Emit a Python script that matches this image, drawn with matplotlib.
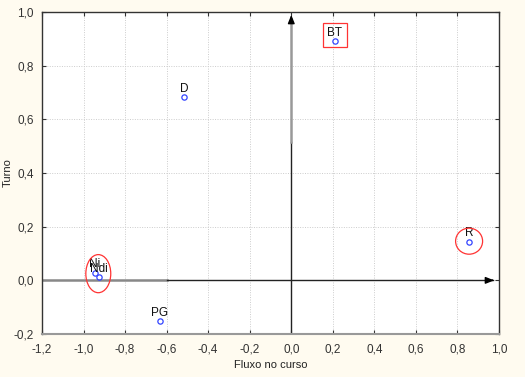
import matplotlib
matplotlib.use("Agg")
import matplotlib.pyplot as plt
from matplotlib.patches import Ellipse, Rectangle
from matplotlib.ticker import FuncFormatter, MultipleLocator

labels = ["BT", "D", "R", "Ni", "Ndi", "PG"]
fluxo = [0.21, -0.516, 0.856, -0.946, -0.927, -0.633]
turno = [0.892, 0.683, 0.143, 0.028, 0.012, -0.152]

plt.rcParams['font.family'] = ['Liberation Sans', 'DejaVu Sans']

fig = plt.figure(figsize=(5.25, 3.77), dpi=100)
fig.patch.set_facecolor('#fffbf0')
ax = fig.add_axes([0.08, 0.114, 0.8705, 0.854])
ax.set_facecolor('white')
ax.set_xlim(-1.2, 1.0)
ax.set_ylim(-0.2, 1.0)
ax.xaxis.set_major_locator(MultipleLocator(0.2))
ax.yaxis.set_major_locator(MultipleLocator(0.2))
fmt = FuncFormatter(lambda v, p: f"{v:.1f}".replace('.', ',').replace('-0,0', '0,0'))
ax.xaxis.set_major_formatter(fmt)
ax.yaxis.set_major_formatter(fmt)
ax.tick_params(direction='in', length=3, width=0.8, labelsize=8.5, colors='#333333',
               top=True, right=True)
ax.tick_params(axis='x', pad=7)
ax.tick_params(axis='y', pad=6)
ax.grid(True, linestyle=(0, (1, 1.5)), color='#cccccc', linewidth=0.7)
ax.set_axisbelow(True)
for s in ['left', 'top', 'right']:
    ax.spines[s].set_color('#333333')
    ax.spines[s].set_linewidth(1.0)
ax.spines['bottom'].set_color('#999999')
ax.spines['bottom'].set_linewidth(1.5)

ax.set_xlabel("Fluxo no curso", fontsize=8, color='#222222')
ax.set_ylabel("Turno", fontsize=8, color='#222222')
ax.xaxis.set_label_coords(0.5, -0.08)
ax.yaxis.set_label_coords(-0.064, 0.5)

# axis lines
ax.plot([0, 0], [-0.2, 0.515], color='#222222', lw=1.0, zorder=2)
ax.plot([0, 0], [0.515, 0.975], color='#999999', lw=1.8, zorder=2)
ax.annotate('', xy=(0, 1.0), xytext=(0, 0.96),
            arrowprops=dict(arrowstyle='-|>,head_length=0.5,head_width=0.2', color='black', lw=1.0))
ax.plot([-1.195, -0.6], [0, 0], color='#888888', lw=1.8, zorder=2)
ax.plot([-0.6, 0.97], [0, 0], color='#222222', lw=1.0, zorder=2)
ax.annotate('', xy=(0.99, 0.0), xytext=(0.95, 0.0),
            arrowprops=dict(arrowstyle='-|>,head_length=0.5,head_width=0.2', color='black', lw=1.0))

ax.plot(fluxo, turno, 'o', ms=3.8, mfc='none', mec='#3344ff', mew=0.9, zorder=4)
for lab, x, y in zip(labels, fluxo, turno):
    ax.annotate(lab, (x, y), xytext=(0, 1.8), textcoords='offset points',
                ha='center', va='bottom', fontsize=8.5, color='#111111', zorder=5)

ax.add_patch(Ellipse((-0.929, 0.025), 0.12, 0.142, fill=False, ec='#ff3333', lw=0.9, zorder=6))
ax.add_patch(Ellipse((0.856, 0.146), 0.13, 0.097, fill=False, ec='#ff3333', lw=0.9, zorder=6))
ax.add_patch(Rectangle((0.153, 0.868), 0.114, 0.09, fill=False, ec='#ff3333', lw=0.9, zorder=6))

fig.savefig("out.png", dpi=100, facecolor=fig.get_facecolor())
